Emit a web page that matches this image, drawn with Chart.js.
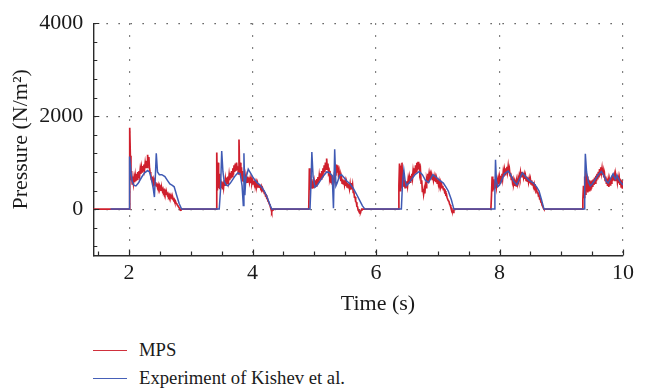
<!DOCTYPE html>
<html>
<head>
<meta charset="utf-8">
<script src="https://cdn.jsdelivr.net/npm/chart.js@4.4.0/dist/chart.umd.min.js"></script>
<style>
    body { margin: 0; background: #fff; }
    #wrap { position: relative; width: 655px; height: 391px; background: #fff; }
    #chart { position: absolute; left: 0; top: 0; }
    .serif { font-family: 'Liberation Serif', 'DejaVu Serif', serif; color: #1a1a1a; }
    #x-title { position: absolute; left: 278px; width: 200px; top: 290px; line-height: 26px; text-align: center; font-size: 22px; }
    .legend-row { position: absolute; left: 93px; height: 24px; display: flex; align-items: center; font-size: 18.7px; }
    .legend-row .swatch { width: 34px; height: 0; border-top: 1.5px solid; margin-right: 12px; }
</style>
</head>
<body>
<div id="wrap">
    <canvas id="chart" width="655" height="320"></canvas>
    <div id="x-title" class="serif">Time (s)</div>
    <div class="legend-row serif" style="top: 338px;"><span class="swatch" style="border-color: #d0303c;"></span>MPS</div>
    <div class="legend-row serif" style="top: 366px;"><span class="swatch" style="border-color: #4660b8;"></span>Experiment of Kishev et al.</div>
</div>
<script>
// axis ranges and ticks
const xMin = 1.42, xMax = 10;
const yMin = -1000, yMax = 4000;
const xTickValues = [2, 4, 6, 8, 10];
const yTickValues = [0, 2000, 4000];
const xMinorStep = 0.5;
const yMinorStep = 400;

// MPS pressure, sampled every 0.01 s, one array per wave impact
const mpsStep = 0.01;
const mpsStarts = [2.00, 3.41, 4.91, 6.36, 7.86, 9.34];
const mpsBurst1 = [
    0, 1750, 1150, 620, 820, 540, 700, 560, 680, 580,
    720, 600, 760, 640, 800, 680, 820, 720, 860, 760,
    900, 800, 930, 830, 960, 860, 990, 880, 1040, 900,
    1170, 960, 1120, 880, 800, 760, 640, 700, 600, 650,
    560, 610, 520, 580, 500, 550, 470, 520, 450, 500,
    430, 470, 410, 450, 390, 430, 370, 400, 340, 380,
    320, 350, 300, 330, 280, 310, 260, 290, 240, 260,
    220, 240, 190, 210, 160, 170, 130, 120, 90, 70,
    50, 30, 10, -20, -10, 0
];
const mpsBurst2 = [
    0, 1220, 400, 1000, 450, 760, 430, 640, 470, 600,
    440, 580, 470, 620, 500, 640, 520, 680, 560, 700,
    600, 740, 620, 780, 660, 820, 700, 880, 740, 940,
    800, 980, 820, 1000, 860, 920, 760, 1500, 820, 1000,
    700, 900, 620, 820, 600, 760, 580, 700, 560, 680,
    580, 700, 600, 680, 580, 660, 560, 640, 560, 620,
    540, 610, 530, 590, 520, 580, 500, 560, 480, 540,
    470, 520, 450, 490, 420, 450, 380, 410, 340, 360,
    290, 300, 230, 230, 170, 160, 110, 90, 40, -10,
    -60, -20, 0
];
const mpsBurst3 = [
    0, 880, 420, 720, 460, 640, 440, 600, 450, 580,
    470, 620, 500, 650, 530, 690, 570, 720, 610, 770,
    650, 820, 700, 880, 760, 940, 800, 1000, 860, 1090,
    880, 980, 780, 820, 660, 720, 560, 640, 540, 660,
    560, 700, 640, 820, 720, 960, 800, 940, 760, 820,
    660, 740, 600, 680, 560, 640, 540, 620, 520, 600,
    500, 580, 480, 560, 460, 540, 440, 540, 420, 560,
    430, 520, 360, 380, 260, 260, 160, 150, 60, 50,
    -20, -40, -70, -50, -60, -20, 0
];
const mpsBurst4 = [
    0, 500, 980, 400, 940, 460, 1000, 520, 760, 480,
    620, 460, 600, 480, 600, 500, 640, 540, 680, 580,
    720, 620, 760, 660, 820, 720, 880, 760, 940, 800,
    1000, 840, 1020, 860, 980, 760, 820, 560, 620, 380,
    440, 320, 420, 340, 520, 460, 640, 580, 760, 680,
    780, 700, 760, 660, 740, 640, 720, 620, 700, 600,
    680, 580, 660, 560, 640, 540, 610, 520, 580, 490,
    540, 460, 500, 420, 450, 370, 390, 310, 320, 250,
    250, 180, 170, 110, 90, 40, 20, -30, -50, -70,
    -30, 0
];
const mpsBurst5 = [
    0, 300, 700, 380, 640, 420, 600, 460, 620, 480,
    600, 500, 640, 540, 680, 570, 720, 610, 760, 650,
    800, 700, 840, 740, 880, 780, 910, 800, 920, 790,
    860, 720, 780, 640, 700, 580, 640, 540, 600, 500,
    570, 500, 600, 540, 660, 600, 720, 660, 790, 700,
    800, 700, 780, 680, 750, 650, 720, 620, 700, 600,
    680, 580, 660, 560, 640, 540, 620, 520, 580, 490,
    540, 450, 480, 400, 430, 350, 370, 290, 300, 220,
    220, 150, 140, 80, 60, 20, 0
];
const mpsBurst6 = [
    0, 200, 500, 250, 700, 320, 820, 380, 700, 360,
    640, 400, 620, 420, 600, 440, 620, 480, 640, 520,
    680, 560, 720, 600, 760, 640, 800, 680, 860, 740,
    900, 780, 880, 740, 820, 680, 760, 620, 700, 560,
    660, 500, 620, 480, 620, 520, 660, 560, 720, 600,
    760, 620, 720, 600, 740, 620, 720, 580, 680, 560,
    660, 520, 640, 480, 620, 440, 600
];

// experiment of Kishev et al.
const expTime = [
    1.70, 2.00, 2.005, 2.01, 2.03, 2.05, 2.08, 2.11, 2.15, 2.20, 2.25, 2.30, 2.33, 2.36, 2.39, 2.41, 2.425, 2.44, 2.46, 2.49, 2.53, 2.58, 2.62, 2.66, 2.70, 2.73, 2.77, 2.81, 2.85,
    3.46, 3.48, 3.50, 3.52, 3.54, 3.57, 3.60, 3.64, 3.68, 3.72, 3.76, 3.80, 3.83, 3.85, 3.86, 3.875, 3.89, 3.93, 3.97, 4.00, 4.04, 4.08, 4.12, 4.16, 4.20, 4.24, 4.28, 4.31,
    4.93, 4.945, 4.96, 4.98, 5.01, 5.05, 5.10, 5.15, 5.20, 5.24, 5.29, 5.31, 5.33, 5.35, 5.37, 5.41, 5.44, 5.48, 5.53, 5.58, 5.63, 5.68, 5.73, 5.78, 5.82,
    6.41, 6.43, 6.45, 6.47, 6.49, 6.53, 6.58, 6.63, 6.70, 6.75, 6.80, 6.85, 6.92, 6.97, 7.03, 7.09, 7.13, 7.17, 7.22, 7.26,
    7.92, 7.925, 7.935, 7.95, 7.97, 8.00, 8.04, 8.08, 8.14, 8.18, 8.23, 8.28, 8.32, 8.37, 8.42, 8.48, 8.55, 8.60, 8.64, 8.68, 8.72,
    9.37, 9.38, 9.39, 9.41, 9.44, 9.47, 9.50, 9.55, 9.60, 9.65, 9.69, 9.73, 9.76, 9.80, 9.84, 9.86, 9.88, 9.90, 9.93, 9.96, 10.00
];
const expPressure = [
    0, 0, 500, 1130, 800, 600, 510, 500, 560, 680, 780, 830, 800, 650, 450, 260, 700, 1200, 800, 740, 740, 700, 620, 540, 510, 480, 300, 120, 0,
    0, 400, 1250, 800, 600, 520, 500, 560, 640, 720, 780, 760, 500, 80, 1200, 300, 650, 860, 770, 700, 620, 560, 520, 450, 360, 240, 100, 0,
    0, 500, 1230, 700, 470, 520, 620, 720, 800, 790, 720, 20, 1290, 500, 560, 720, 740, 680, 600, 540, 450, 330, 200, 70, 0,
    0, 600, 840, 620, 500, 560, 650, 740, 810, 740, 620, 570, 740, 690, 620, 560, 480, 390, 200, 0,
    0, 400, 1060, 600, 480, 520, 640, 760, 820, 740, 600, 520, 640, 780, 700, 620, 560, 480, 390, 200, 0,
    0, 500, 1190, 800, 580, 500, 540, 640, 740, 810, 720, 600, 560, 660, 760, 680, 640, 730, 640, 580, 520
];

const mpsBursts = [mpsBurst1, mpsBurst2, mpsBurst3, mpsBurst4, mpsBurst5, mpsBurst6];

// build MPS points; zero between impacts
const mpsPoints = [{ x: xMin, y: 0 }];
mpsBursts.forEach((burst, b) => {
    burst.forEach((p, i) => {
        mpsPoints.push({ x: Math.round((mpsStarts[b] + i * mpsStep) * 100) / 100, y: p });
    });
});
const expPoints = expTime.map((t, i) => ({ x: t, y: expPressure[i] }));

const serif = "'Liberation Serif', 'DejaVu Serif', serif";
const textColor = '#1a1a1a';
const axisColor = '#2a2a2a';
const labelFont = { family: serif, size: 22 };

// short inward ticks along the left and bottom axes
const innerTicks = {
    id: 'innerTicks',
    afterDraw(chart) {
        const { ctx, chartArea: a, scales: { x, y } } = chart;
        ctx.save();
        ctx.strokeStyle = axisColor;
        ctx.lineWidth = 1.2;
        ctx.beginPath();
        for (let v = Math.ceil(yMin / yMinorStep) * yMinorStep; v <= yMax; v += yMinorStep) {
            const py = Math.round(y.getPixelForValue(v)) + 0.5;
            const len = yTickValues.includes(v) ? 6 : 4;
            ctx.moveTo(a.left, py);
            ctx.lineTo(a.left + len, py);
        }
        for (let v = Math.ceil(xMin / xMinorStep) * xMinorStep; v <= xMax; v += xMinorStep) {
            const px = Math.round(x.getPixelForValue(v)) + 0.5;
            const len = xTickValues.includes(v) ? 6 : 4;
            ctx.moveTo(px, a.bottom);
            ctx.lineTo(px, a.bottom - len);
        }
        ctx.stroke();
        ctx.restore();
    }
};

new Chart(document.getElementById('chart'), {
    type: 'line',
    data: {
        datasets: [
            {
                label: 'MPS',
                data: mpsPoints,
                borderColor: '#cf1f2d',
                borderWidth: 1.7,
                pointRadius: 0,
                tension: 0,
                order: 2
            },
            {
                label: 'Experiment of Kishev et al.',
                data: expPoints,
                borderColor: '#3f5ab4',
                borderWidth: 1.5,
                pointRadius: 0,
                tension: 0,
                order: 1
            }
        ]
    },
    options: {
        responsive: false,
        animation: false,
        devicePixelRatio: 1,
        layout: { padding: { top: 14, right: 32, bottom: 3.8, left: 0 } },
        plugins: {
            legend: { display: false },
            tooltip: { enabled: false }
        },
        scales: {
            x: {
                type: 'linear',
                min: xMin,
                max: xMax,
                afterBuildTicks: s => { s.ticks = xTickValues.map(v => ({ value: v })); },
                afterFit: s => { s.height = 60.6; },
                grid: { color: '#5a5a5a', lineWidth: 1.2, drawTicks: false },
                border: { display: true, color: axisColor, width: 1.4, dash: [1.5, 10.5] },
                ticks: { padding: 4, color: textColor, font: labelFont, maxRotation: 0, callback: v => String(v) }
            },
            y: {
                min: yMin,
                max: yMax,
                afterBuildTicks: s => { s.ticks = yTickValues.map(v => ({ value: v })); },
                afterFit: s => { s.width = 93.3; },
                grid: { color: '#5a5a5a', lineWidth: 1.2, drawTicks: false },
                border: { display: true, color: axisColor, width: 1.4, dash: [1.5, 10.5] },
                ticks: { padding: 10, color: textColor, font: labelFont, callback: v => String(v) },
                title: { display: true, text: 'Pressure (N/m²)', color: textColor, font: labelFont, padding: { top: 8.5, bottom: 0 } }
            }
        }
    },
    plugins: [innerTicks]
});
</script>
</body>
</html>
